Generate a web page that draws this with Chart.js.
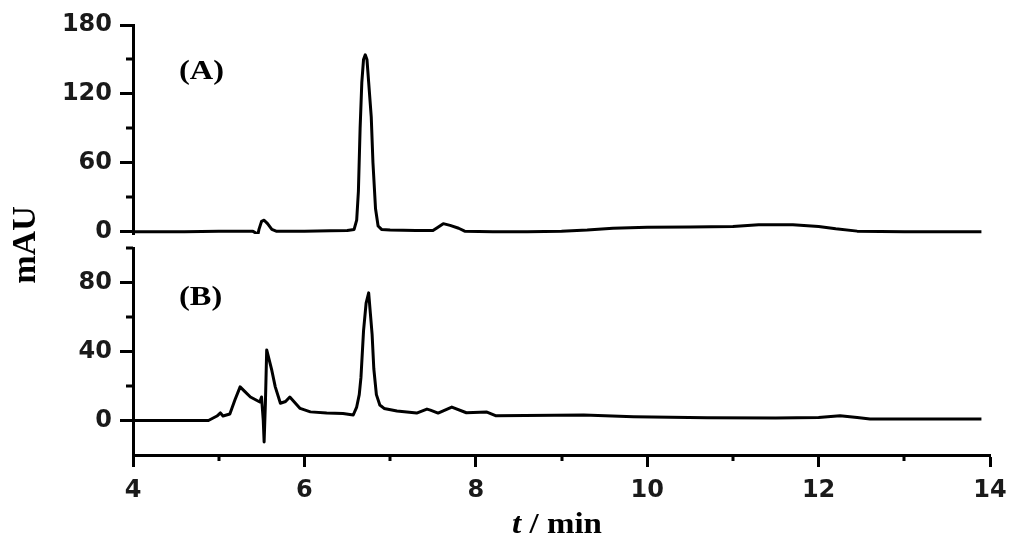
<!DOCTYPE html>
<html>
<head>
<meta charset="utf-8">
<script src="https://cdn.jsdelivr.net/npm/chart.js@4.4.1/dist/chart.umd.min.js"></script>
<style>
  html, body { margin: 0; padding: 0; background: #fff; }
  #wrap { width: 1024px; height: 544px; }
</style>
</head>
<body>
<div id="wrap"><canvas id="chart" width="1024" height="544"></canvas></div>
<script>
const timeA   = [4.0, 4.6, 5.0, 5.4, 5.43, 5.45, 5.47, 5.5, 5.53, 5.57, 5.62, 5.67, 6.0, 6.3, 6.5, 6.58, 6.61, 6.63, 6.65, 6.67, 6.69, 6.71, 6.73, 6.75, 6.78, 6.8, 6.83, 6.86, 6.9, 7.0, 7.3, 7.5, 7.55, 7.62, 7.7, 7.8, 7.87, 8.2, 8.6, 9.0, 9.3, 9.6, 10.0, 10.5, 11.0, 11.3, 11.7, 12.0, 12.2, 12.45, 13.0, 13.9];
const signalA = [0, 0, 0.3, 0.3, -1, -5, 2, 9, 10, 7, 2, 0.5, 0.5, 0.8, 1, 2, 10, 35, 90, 130, 150, 154, 150, 130, 100, 60, 20, 5, 2, 1.5, 1, 1, 3.5, 7, 5.5, 3, 0.5, 0, 0, 0.5, 1.5, 3, 3.8, 4, 4.5, 6, 6, 4.5, 2.5, 0.5, 0, 0];

const timeB   = [4.0, 4.5, 4.88, 4.98, 5.02, 5.05, 5.13, 5.19, 5.25, 5.3, 5.37, 5.48, 5.5, 5.52, 5.53, 5.545, 5.56, 5.62, 5.66, 5.72, 5.78, 5.83, 5.95, 6.07, 6.26, 6.45, 6.57, 6.61, 6.64, 6.66, 6.69, 6.72, 6.75, 6.77, 6.79, 6.81, 6.84, 6.88, 6.93, 7.08, 7.31, 7.43, 7.47, 7.56, 7.72, 7.89, 8.13, 8.23, 9.26, 9.84, 10.7, 11.5, 12.0, 12.25, 12.45, 12.6, 13.9];
const signalB = [0, 0, 0, 2.6, 4.4, 2.6, 3.8, 12, 19.5, 17, 13.6, 10.7, 13.6, 0, -12.5, 10, 40.9, 29, 19.5, 10, 11, 13.6, 7, 5, 4.3, 4, 3.2, 7.8, 15, 25, 52, 68, 74, 62, 50, 30, 15, 9, 7, 5.5, 4.3, 6.6, 6, 4.3, 7.8, 4.5, 4.9, 2.8, 3.2, 2.2, 1.6, 1.5, 1.8, 2.8, 1.8, 0.9, 0.9];

// Ticks
const ticksX = [4, 6, 8, 10, 12, 14];
const minorX = [5, 7, 9, 11, 13];
const ticksA = [0, 60, 120, 180];
const minorA = [30, 90, 150];
const ticksB = [0, 40, 80];
const minorB = [20, 60, 100];

const panelLabels = ["(A)", "(B)"];
const yTitle = "mAU";

// ── Estilos comunes ──────────────────────────────────────────────
const TICK_FONT = { family: "'DejaVu Sans'", size: 24, weight: "bold" };
const AXIS_W = 3;
const LINE_W = 3;

const toPoints = (xs, ys) => xs.map((x, i) => ({ x, y: ys[i] }));

const axisGrid = (len) => ({
  drawOnChartArea: false, drawTicks: true, tickLength: len,
  tickWidth: AXIS_W, tickColor: "#000"
});

// ── Plugin: ticks menores, etiquetas de panel y títulos ──────────
const decorPlugin = {
  id: "decor",
  afterDraw(chart) {
    const ctx = chart.ctx;
    const { x, yA, yB } = chart.scales;
    ctx.save();
    ctx.strokeStyle = "#000";
    ctx.lineWidth = AXIS_W;
    ctx.beginPath();
    minorA.forEach(v => {
      const p = Math.round(yA.getPixelForValue(v));
      ctx.moveTo(yA.right - 7, p); ctx.lineTo(yA.right, p);
    });
    minorB.forEach(v => {
      const p = Math.round(yB.getPixelForValue(v));
      ctx.moveTo(yB.right - 7, p); ctx.lineTo(yB.right, p);
    });
    minorX.forEach(v => {
      const p = Math.round(x.getPixelForValue(v));
      ctx.moveTo(p, x.top); ctx.lineTo(p, x.top + 6);
    });
    ctx.stroke();

    ctx.fillStyle = "#000";
    ctx.textBaseline = "alphabetic";

    // (A) y (B)
    ctx.font = "bold 27px 'Liberation Serif'";
    [[panelLabels[0], 79], [panelLabels[1], 305]].forEach(([txt, base]) => {
      ctx.save();
      ctx.translate(179, base);
      ctx.scale(1.2, 1);
      ctx.fillText(txt, 0, 0);
      ctx.restore();
    });

    // mAU
    ctx.save();
    ctx.font = "bold 34px 'Liberation Serif'";
    ctx.translate(35, 245);
    ctx.rotate(-Math.PI / 2);
    ctx.textAlign = "center";
    ctx.fillText(yTitle, 0, 0);
    ctx.restore();

    // t / min
    ctx.save();
    const fItal = "italic bold 30px 'Liberation Serif'";
    const fBold = "bold 30px 'Liberation Serif'";
    ctx.font = fItal; const wT = ctx.measureText("t").width;
    ctx.font = fBold; const wR = ctx.measureText(" / min").width;
    const sx = 1.1;
    ctx.translate(557 - (wT + wR) * sx / 2, 533);
    ctx.scale(sx, 1);
    ctx.font = fItal; ctx.fillText("t", 0, 0);
    ctx.font = fBold; ctx.fillText(" / min", wT, 0);
    ctx.restore();

    ctx.restore();
  }
};

// ── Gráfico ──────────────────────────────────────────────────────
new Chart(document.getElementById("chart"), {
  type: "line",
  data: {
    datasets: [
      {
        label: "A", data: toPoints(timeA, signalA), yAxisID: "yA",
        borderColor: "#000", borderWidth: LINE_W, pointRadius: 0, tension: 0,
        borderJoinStyle: "round"
      },
      {
        label: "B", data: toPoints(timeB, signalB), yAxisID: "yB",
        borderColor: "#000", borderWidth: LINE_W, pointRadius: 0, tension: 0,
        borderJoinStyle: "round"
      }
    ]
  },
  options: {
    responsive: false,
    animation: false,
    devicePixelRatio: 1,
    layout: { padding: { top: 25, right: 34, bottom: 0, left: 0 } },
    plugins: { legend: { display: false }, tooltip: { enabled: false } },
    scales: {
      x: {
        type: "linear", position: "bottom", min: 4, max: 14,
        afterBuildTicks: s => { s.ticks = ticksX.map(v => ({ value: v })); },
        afterFit: s => { s.height = 89; },
        grid: axisGrid(12),
        border: { color: "#000", width: AXIS_W },
        ticks: { font: TICK_FONT, color: "#1a1a1a", padding: 9, maxRotation: 0 }
      },
      yB: {
        type: "linear", position: "left", min: -20, max: 100,
        stack: "panels", stackWeight: 207,
        afterBuildTicks: s => { s.ticks = ticksB.map(v => ({ value: v })); },
        afterFit: s => { s.width = 133; },
        grid: axisGrid(13),
        border: { color: "#000", width: AXIS_W },
        ticks: { font: TICK_FONT, color: "#1a1a1a", padding: 8 }
      },
      yGap: {
        type: "linear", position: "left", min: 0, max: 1,
        stack: "panels", stackWeight: 14,
        grid: { display: false },
        border: { display: false },
        ticks: { display: false }
      },
      yA: {
        type: "linear", position: "left", min: -2, max: 180,
        stack: "panels", stackWeight: 209,
        afterBuildTicks: s => { s.ticks = ticksA.map(v => ({ value: v })); },
        afterFit: s => { s.width = 133; },
        grid: axisGrid(13),
        border: { color: "#000", width: AXIS_W },
        ticks: { font: TICK_FONT, color: "#1a1a1a", padding: 8 }
      }
    }
  },
  plugins: [decorPlugin]
});
</script>
</body>
</html>
